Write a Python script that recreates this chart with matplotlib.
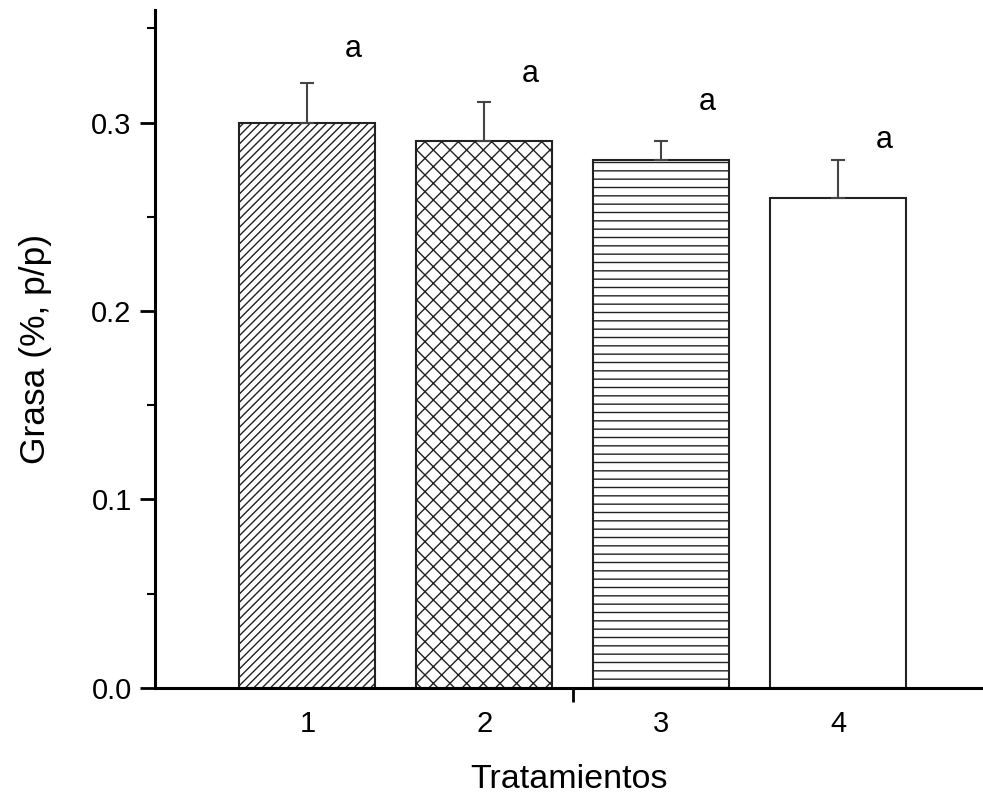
import matplotlib
matplotlib.use("Agg")
import matplotlib.pyplot as plt
from matplotlib.ticker import MultipleLocator, FixedLocator, NullFormatter

plt.rcParams['font.family'] = ['Liberation Sans', 'DejaVu Sans']
plt.rcParams['hatch.linewidth'] = 1.0

# datos
tratamientos = [1, 2, 3, 4]
grasa = [0.30, 0.29, 0.28, 0.26]
error = [0.021, 0.021, 0.010, 0.020]
letras = ['a', 'a', 'a', 'a']
tramas = ['////', 'xx', '--', '']
# separacion de cada letra sobre la barra de error
sep_letra = [0.018, 0.015, 0.021, 0.011]

fig = plt.figure(figsize=(9.83, 7.97), dpi=100)
ax = fig.add_axes([0.158, 0.137, 0.842, 0.851])

for x, y, e, h in zip(tratamientos, grasa, error, tramas):
    ax.bar(x, y, width=0.77, color='white', edgecolor='#222222',
           linewidth=1.5, hatch=h)
    ax.errorbar(x, y, yerr=[[0], [e]], fmt='none', ecolor='#444444',
                elinewidth=1.5, capsize=5, capthick=1.5)

for x, y, e, s, l in zip(tratamientos, grasa, error, sep_letra, letras):
    ax.text(x + 0.26, y + e + s, l, ha='center', va='center', fontsize=22)

ax.set_xlim(0.14, 4.82)
ax.set_ylim(0, 0.36)

ax.spines['top'].set_visible(False)
ax.spines['right'].set_visible(False)
ax.spines['left'].set_linewidth(2.2)
ax.spines['bottom'].set_linewidth(2.2)

ax.yaxis.set_major_locator(MultipleLocator(0.1))
ax.yaxis.set_minor_locator(MultipleLocator(0.05))
ax.yaxis.set_major_formatter(plt.FuncFormatter(lambda v, p: '%.1f' % v))
ax.tick_params(axis='y', which='major', direction='out', length=11, width=2,
               labelsize=21, pad=6)
ax.tick_params(axis='y', which='minor', direction='out', length=6, width=1.5)

ax.set_xticks(tratamientos)
ax.set_xticklabels([str(t) for t in tratamientos])
ax.xaxis.set_minor_locator(FixedLocator([2.5]))
ax.xaxis.set_minor_formatter(NullFormatter())
ax.tick_params(axis='x', which='major', length=0, labelsize=21, pad=16)
ax.tick_params(axis='x', which='minor', direction='out', length=10, width=2)

ax.set_xlabel('Tratamientos', fontsize=24.5, labelpad=19)
ax.set_ylabel('Grasa (%, p/p)', fontsize=25.5, labelpad=28)

fig.savefig('out.png', dpi=100)
